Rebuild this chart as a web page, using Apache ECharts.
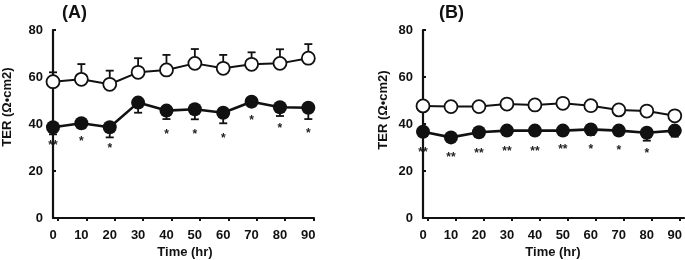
<!DOCTYPE html>
<html>
<head>
<meta charset="utf-8">
<script src="https://cdn.jsdelivr.net/npm/echarts@6/dist/echarts.min.js"></script>
<style>
  html, body { margin: 0; padding: 0; background: #fff; }
  #chart { width: 685px; height: 260px; }
</style>
</head>
<body>
<div id="chart"></div>
<script>
// time points (hr)
const hours = [0, 10, 20, 30, 40, 50, 60, 70, 80, 90]

// panel A
const ctrlA = [58, 59, 56.9, 62, 63, 65.8, 63.7, 65.4, 65.8, 68]
const ctrlAErr = [4, 6.5, 5.8, 6, 6.4, 6.1, 5.7, 5.1, 6, 6]
const treatA = [38.6, 40.3, 38.6, 49.1, 45.7, 46.3, 44.8, 49.5, 47.1, 46.9]
const treatAErr = [3, 2, 4.3, 4.3, 3.6, 4.3, 4.5, 2, 3.7, 4.8]
const starsA = ['**', '*', '*', '', '*', '*', '*', '*', '*', '*']
const starsAY = [31.9, 33.6, 30.6, 0, 36.6, 36.6, 34.9, 42.6, 39.1, 37]

// panel B
const ctrlB = [47.7, 47.4, 47.4, 48.5, 48.1, 48.8, 47.8, 46, 45.5, 43.5]
const ctrlBErr = [1, 1, 1, 1, 1, 1, 1, 1, 1, 1]
const treatB = [36.7, 34.3, 36.5, 37.2, 37.2, 37.2, 37.7, 37.2, 36.3, 37.2]
const treatBErr = [1.5, 1, 1, 1, 1, 1.5, 2.4, 1.5, 3.4, 2.6]
const starsB = ['**', '**', '**', '**', '**', '**', '*', '*', '*', '']
const starsBY = [28.9, 26.8, 28.6, 29.7, 29.4, 30.3, 30.3, 29.8, 28.5, 0]

const yTicks = [0, 20, 40, 60, 80]

const FONT = '"Liberation Sans", Arial, sans-serif'

// error bar: vertical stem + cap, dir = 1 up, -1 down
function errBars (mean, err, dir, xi, yi) {
  return {
    type: 'custom',
    xAxisIndex: xi,
    yAxisIndex: yi,
    z: 1,
    silent: true,
    data: hours.map((h, i) => [h, mean[i], mean[i] + dir * err[i]]),
    renderItem: (params, api) => {
      const p0 = api.coord([api.value(0), api.value(1)])
      const p1 = api.coord([api.value(0), api.value(2)])
      const style = { stroke: '#111', lineWidth: 1.8 }
      return {
        type: 'group',
        children: [{
          type: 'line',
          shape: { x1: p0[0], y1: p0[1], x2: p1[0], y2: p1[1] },
          style
        }, {
          type: 'line',
          shape: { x1: p1[0] - 4, y1: p1[1], x2: p1[0] + 4, y2: p1[1] },
          style
        }]
      }
    }
  }
}

function meanLine (mean, filled, xi, yi) {
  return {
    type: 'line',
    xAxisIndex: xi,
    yAxisIndex: yi,
    z: 3,
    silent: true,
    data: hours.map((h, i) => [h, mean[i]]),
    symbol: 'circle',
    symbolSize: filled ? 14 : 13,
    lineStyle: { color: '#111', width: filled ? 2.6 : 2 },
    itemStyle: {
      color: filled ? '#111' : '#fff',
      borderColor: '#111',
      borderWidth: filled ? 0 : 1.8
    }
  }
}

// significance asterisks below the treated series
function starMarks (marks, ys, xi, yi) {
  return {
    type: 'custom',
    xAxisIndex: xi,
    yAxisIndex: yi,
    z: 4,
    silent: true,
    data: hours.map((h, i) => [h, ys[i], i]).filter(d => marks[d[2]]),
    renderItem: (params, api) => {
      const p = api.coord([api.value(0), api.value(1)])
      return {
        type: 'text',
        x: p[0],
        y: p[1] + 3,
        style: {
          text: marks[api.value(2)],
          font: 'bold 12px ' + FONT,
          fill: '#222',
          align: 'center',
          verticalAlign: 'middle'
        }
      }
    }
  }
}

const axisText = { color: '#111', fontFamily: FONT, fontSize: 13, fontWeight: 'bold' }
const lineStyle = { color: '#111', width: 2.2 }

function xMain (grid, max) {
  return {
    type: 'value',
    gridIndex: grid,
    min: 0,
    max,
    interval: 10,
    splitLine: { show: false },
    axisLine: { show: true, onZero: false, lineStyle },
    axisTick: { show: false },
    axisLabel: { ...axisText, margin: 11, customValues: hours }
  }
}

// the original figure draws x ticks a few px right of the labels
function xTicks (grid, max) {
  return {
    type: 'value',
    gridIndex: grid,
    min: -1.8,
    max: max - 1.8,
    splitLine: { show: false },
    axisLine: { show: false },
    axisLabel: { show: false },
    axisTick: { show: true, inside: true, length: 3, customValues: hours, lineStyle: { color: '#111', width: 2 } }
  }
}

function yMain (grid) {
  return {
    type: 'value',
    gridIndex: grid,
    min: 0,
    max: 80,
    interval: 20,
    splitLine: { show: false },
    axisLine: { show: true, lineStyle },
    axisTick: { show: true, inside: true, length: 3, lineStyle: { color: '#111', width: 2 } },
    axisLabel: { ...axisText, margin: 10, customValues: yTicks }
  }
}

const chart = echarts.init(document.getElementById('chart'))
chart.setOption({
  animation: false,
  backgroundColor: '#fff',
  grid: [
    { left: 53, top: 30, width: 261, height: 188 },
    { left: 423, top: 30, width: 262, height: 188 }
  ],
  xAxis: [xMain(0, 92), xMain(1, 93.3), xTicks(0, 92), xTicks(1, 93.3)],
  yAxis: [yMain(0), yMain(1)],
  graphic: [
    { type: 'text', left: 62, top: 4, style: { text: '(A)', font: 'bold 18px ' + FONT, fill: '#111' } },
    { type: 'text', left: 439, top: 4, style: { text: '(B)', font: 'bold 18px ' + FONT, fill: '#111' } },
    { type: 'text', x: 7, y: 107, rotation: Math.PI / 2, style: { text: 'TER (Ω•cm2)', font: 'bold 13px ' + FONT, fill: '#111', align: 'center', verticalAlign: 'middle' } },
    { type: 'text', x: 383, y: 110, rotation: Math.PI / 2, style: { text: 'TER (Ω•cm2)', font: 'bold 13px ' + FONT, fill: '#111', align: 'center', verticalAlign: 'middle' } },
    { type: 'text', x: 185, y: 252, style: { text: 'Time (hr)', font: 'bold 13px ' + FONT, fill: '#111', align: 'center', verticalAlign: 'middle' } },
    { type: 'text', x: 553, y: 252, style: { text: 'Time (hr)', font: 'bold 13px ' + FONT, fill: '#111', align: 'center', verticalAlign: 'middle' } }
  ],
  series: [
    errBars(ctrlA, ctrlAErr, 1, 0, 0),
    errBars(treatA, treatAErr, -1, 0, 0),
    meanLine(ctrlA, false, 0, 0),
    meanLine(treatA, true, 0, 0),
    starMarks(starsA, starsAY, 0, 0),
    errBars(ctrlB, ctrlBErr, 1, 1, 1),
    errBars(treatB, treatBErr, -1, 1, 1),
    meanLine(ctrlB, false, 1, 1),
    meanLine(treatB, true, 1, 1),
    starMarks(starsB, starsBY, 1, 1)
  ]
})
</script>
</body>
</html>
